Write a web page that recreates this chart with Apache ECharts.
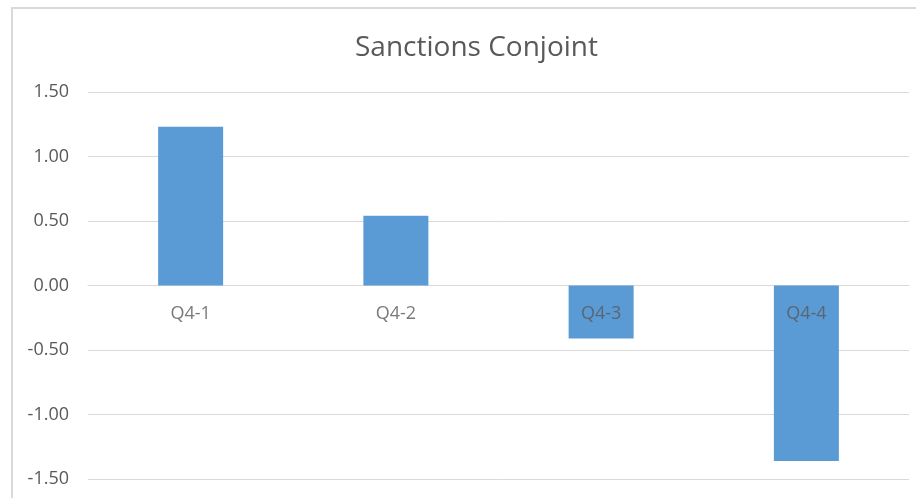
<!DOCTYPE html>
<html>
<head>
<meta charset="utf-8">
<script src="https://cdn.jsdelivr.net/npm/echarts@6/dist/echarts.min.js"></script>
<style>html,body{margin:0;padding:0;background:#fff}#c{width:916px;height:498px}</style>
</head>
<body>
<div id="c"></div>
<script>
const categories = ['Q4-1', 'Q4-2', 'Q4-3', 'Q4-4'];
const values = [1.23, 0.54, -0.41, -1.36];
const chartTitle = 'Sanctions Conjoint';

const chart = echarts.init(document.getElementById('c'), null, {renderer: 'canvas'});
const font = '"Open Sans", sans-serif';
chart.setOption({
  animation: false,
  backgroundColor: '#fff',
  graphic: [{
    type: 'rect', shape: {x: 12, y: 8, width: 930, height: 520},
    style: {fill: 'none', stroke: '#d9d9d9', lineWidth: 2}, silent: true
  }],
  title: {
    text: chartTitle, left: 350, top: 29,
    textStyle: {fontFamily: font, fontSize: 28, fontWeight: 'normal', color: '#595959'}
  },
  grid: {left: 88, right: 7, top: 92, bottom: 19, containLabel: false, outerBoundsMode: 'none'},
  xAxis: {
    type: 'category', data: categories,
    axisLine: {onZero: true, lineStyle: {color: '#d9d9d9', width: 1}},
    axisTick: {show: false},
    axisLabel: {show: false}
  },
  yAxis: {
    type: 'value', min: -1.5, max: 1.5, interval: 0.5,
    axisLine: {show: false}, axisTick: {show: false},
    splitLine: {lineStyle: {color: '#d9d9d9', width: 1}},
    axisLabel: {color: '#595959', fontFamily: font, fontSize: 18, margin: 19,
      formatter: v => v.toFixed(2)}
  },
  series: [{
    type: 'bar', data: values, barWidth: 65,
    itemStyle: {color: '#5b9bd5'}
  }, {
    type: 'scatter', symbolSize: 0, z: 5,
    data: categories.map(c => [c, 0]),
    label: {show: true, position: 'bottom', distance: 19,
      formatter: p => p.data[0],
      color: '#595959', fontFamily: font, fontSize: 18}
  }]
});
</script>
</body>
</html>
